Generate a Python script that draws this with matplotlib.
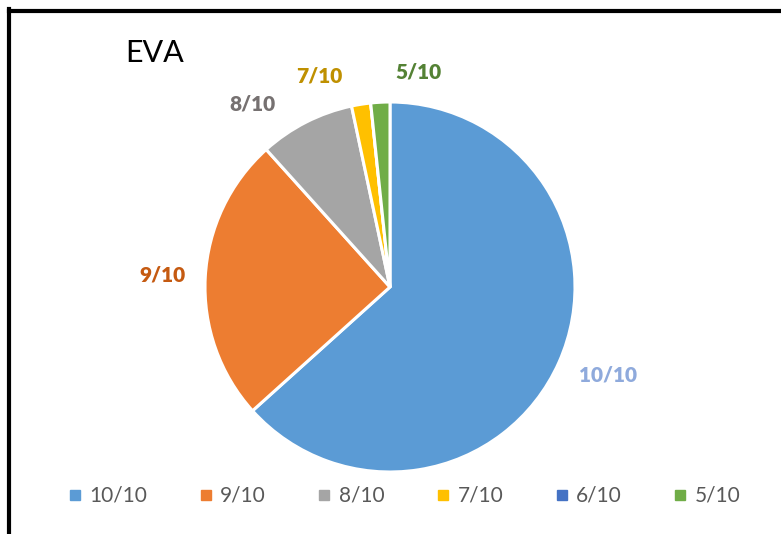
import matplotlib
matplotlib.use("Agg")
import matplotlib.pyplot as plt
from matplotlib.lines import Line2D
import numpy as np

categories = ["10/10", "9/10", "8/10", "7/10", "6/10", "5/10"]
values = [38, 15, 5, 1, 0, 1]
colors = ["#5b9bd5", "#ed7d31", "#a5a5a5", "#ffc000", "#4472c4", "#70ad47"]
label_colors = ["#8faadc", "#c55a11", "#767171", "#bf9000", "#2f5597", "#548235"]
title = "EVA"

plt.rcParams['font.family'] = ['Lato', 'DejaVu Sans']

W, H = 781, 534
fig = plt.figure(figsize=(W / 100, H / 100), dpi=100)
fig.patch.set_facecolor("white")

# border lines (top and left)
fig.add_artist(Line2D([9 / W, 9 / W], [0, 1 - 9 / H], color="black", lw=3, transform=fig.transFigure))
fig.add_artist(Line2D([9 / W, 1], [1 - 11 / H, 1 - 11 / H], color="black", lw=3, transform=fig.transFigure))

cx, cy, r = 390, 287, 185
ax = fig.add_axes([(cx - r) / W, (H - cy - r) / H, 2 * r / W, 2 * r / H])
wedges, _ = ax.pie(values, colors=colors, startangle=90, counterclock=False,
                   wedgeprops=dict(edgecolor="white", linewidth=2.2))
ax.set_xlim(-1, 1)
ax.set_ylim(-1, 1)
ax.set_aspect("equal")
ax.axis("off")

# data label placement (angle in degrees, radius) - layout only
label_pos = {"10/10": (-22, 1.27), "9/10": (177, 1.23), "8/10": (127, 1.24),
             "7/10": (108.5, 1.2), "5/10": (82.5, 1.17)}
for cat, v, lc in zip(categories, values, label_colors):
    if v == 0:
        continue
    ang, rr = label_pos[cat]
    a = np.deg2rad(ang)
    ax.text(rr * np.cos(a), rr * np.sin(a), cat, ha="center", va="center",
            fontsize=15, fontweight="heavy", color=lc, clip_on=False)

fig.text(125 / W, 1 - 53 / H, title, fontsize=22, color="black", ha="left", va="center")

handles = [Line2D([0], [0], marker="s", linestyle="none", markersize=6.5,
                  markerfacecolor=c, markeredgecolor=c) for c in colors]
leg = fig.legend(handles, categories, loc="center", bbox_to_anchor=(0.518, 1 - 496 / H),
                 ncol=6, frameon=False, fontsize=15, handlelength=0.6,
                 handletextpad=0.4, columnspacing=2.5, labelcolor="#595959")

fig.savefig("out.png", dpi=100, facecolor="white")
